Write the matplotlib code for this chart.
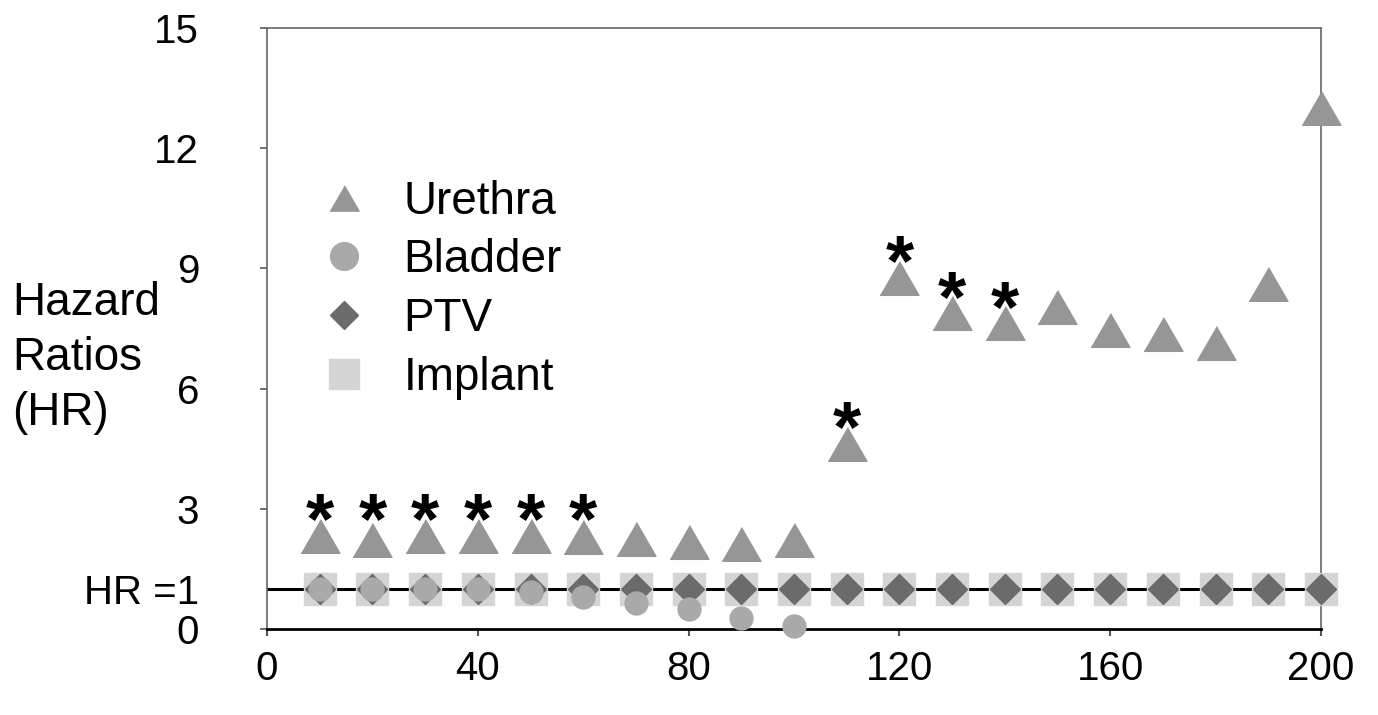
import matplotlib
matplotlib.use("Agg")
import matplotlib.pyplot as plt
from matplotlib.lines import Line2D

plt.rcParams["font.family"] = ["Liberation Sans", "DejaVu Sans"]

# x: dose level, y: hazard ratio
dose = [10, 20, 30, 40, 50, 60, 70, 80, 90, 100,
        110, 120, 130, 140, 150, 160, 170, 180, 190, 200]
urethra_hr = [2.32, 2.23, 2.31, 2.31, 2.31, 2.30, 2.25, 2.18, 2.13, 2.23,
              4.62, 8.76, 7.89, 7.64, 8.03, 7.46, 7.37, 7.14, 8.60, 13.0]
bladder_dose = [10, 20, 30, 40, 50, 60, 70, 80, 90, 100]
bladder_hr = [1.0, 1.0, 1.0, 1.0, 0.93, 0.80, 0.65, 0.50, 0.27, 0.07]
ptv_hr = [1.0] * 20
implant_hr = [1.0] * 20

# significance markers
star_dose = [10, 20, 30, 40, 50, 60, 110, 120, 130, 140]
star_hr = [3.0, 3.0, 3.0, 3.0, 3.0, 3.0, 5.3, 9.45, 8.55, 8.3]

y_ticks = [0, 1, 3, 6, 9, 12, 15]
y_tick_labels = ["0", "HR =1", "3", "6", "9", "12", "15"]
x_ticks = [0, 40, 80, 120, 160, 200]

c_urethra = "#969696"
c_bladder = "#a9a9a9"
c_ptv = "#6b6b6b"
c_implant = "#d4d4d4"
tri = [(-1, -0.866), (1, -0.866), (0, 0.866)]

fig = plt.figure(figsize=(13.78, 7.15), dpi=100)
ax = fig.add_axes([0.1938, 0.1203, 0.7648, 0.8405])

ax.axhline(1, color="black", linewidth=2.2, zorder=2)
ax.plot(dose, implant_hr, linestyle="none", marker="s", markersize=23.5,
        color=c_implant, zorder=3, clip_on=False)
ax.plot(dose, ptv_hr, linestyle="none", marker="D", markersize=15.5,
        color=c_ptv, zorder=4, clip_on=False)
ax.plot(bladder_dose, bladder_hr, linestyle="none", marker="o", markersize=16.5,
        color=c_bladder, zorder=5, clip_on=False)
ax.plot(dose, urethra_hr, linestyle="none", marker=tri, markersize=28,
        color=c_urethra, zorder=6, clip_on=False)

# asterisk glyph sits high in its text box, so nudge it down onto the value
for x, y in zip(star_dose, star_hr):
    ax.annotate("*", (x, y), xytext=(0, -11), textcoords="offset points",
                fontsize=52, fontweight="bold", ha="center", va="center",
                zorder=7)

ax.set_xlim(0, 200)
ax.set_ylim(0, 15)
ax.set_xticks(x_ticks)
ax.set_yticks(y_ticks)
ax.set_yticklabels(y_tick_labels)
ax.tick_params(axis="y", labelsize=29, length=5, width=1.2, color="#555555", pad=44)
ax.tick_params(axis="x", labelsize=29, length=5, width=1.5, color="#555555", pad=10)
for t in ax.yaxis.get_major_ticks():
    if t.get_loc() == 1:
        t.tick1line.set_visible(False)

for s in ["top", "left", "right"]:
    ax.spines[s].set_color("#666666")
    ax.spines[s].set_linewidth(1.2)
ax.spines["bottom"].set_color("black")
ax.spines["bottom"].set_linewidth(2.0)

handles = [
    Line2D([], [], linestyle="none", marker=tri, markersize=21, color=c_urethra),
    Line2D([], [], linestyle="none", marker="o", markersize=20, color=c_bladder),
    Line2D([], [], linestyle="none", marker="D", markersize=14, color=c_ptv),
    Line2D([], [], linestyle="none", marker="s", markersize=21, color=c_implant),
]
ax.legend(handles, ["Urethra", "Bladder", "PTV", "Implant"], loc="upper left",
          bbox_to_anchor=(0.034, 0.778), frameon=False, fontsize=33,
          handlelength=1.0, handletextpad=0.8, labelspacing=0.32,
          borderaxespad=0)

fig.text(0.0087, 0.4993, "Hazard\nRatios\n(HR)", fontsize=33, ha="left",
         va="center", multialignment="left", linespacing=1.32)

fig.savefig("out.png", dpi=100)
